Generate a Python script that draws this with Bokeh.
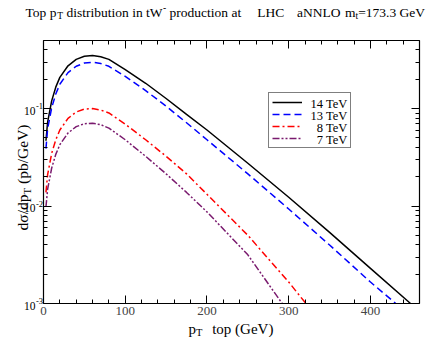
import math
from bokeh.plotting import figure
from bokeh.models import (Label, Legend, LegendItem, LinearAxis, LogAxis, FixedTicker, Range1d)
from bokeh.core.properties import value
from bokeh.embed import file_html
from bokeh.resources import INLINE

# ---------------- data ----------------
pt14 = [3, 5, 10, 15, 20, 30, 40, 50, 60, 70, 80, 100, 125, 150, 175, 200, 250, 300, 350, 400, 449]
lhc14 = [0.0468, 0.0724, 0.120, 0.166, 0.209, 0.275, 0.320, 0.344, 0.350, 0.340, 0.320, 0.251,
         0.182, 0.127, 0.0871, 0.0603, 0.0275, 0.0123, 0.00537, 0.00229, 0.001]
pt13 = [3, 5, 10, 15, 20, 30, 40, 50, 60, 70, 80, 100, 125, 150, 175, 200, 250, 300, 350, 400, 431]
lhc13 = [0.0389, 0.0617, 0.102, 0.141, 0.178, 0.234, 0.272, 0.294, 0.299, 0.290, 0.272, 0.214,
         0.153, 0.106, 0.0716, 0.0479, 0.0214, 0.00933, 0.00398, 0.00166, 0.001]
pt8 = [3, 5, 10, 15, 20, 30, 40, 50, 60, 70, 80, 100, 125, 150, 175, 200, 250, 300, 321]
lhc8 = [0.0138, 0.0209, 0.0347, 0.0479, 0.0603, 0.0794, 0.0923, 0.0991, 0.100, 0.0966, 0.0902, 0.0692,
        0.0479, 0.0324, 0.0214, 0.0132, 0.00501, 0.00166, 0.001]
pt7 = [3, 5, 10, 15, 20, 30, 40, 50, 60, 70, 80, 100, 125, 150, 175, 200, 250, 292]
lhc7 = [0.00977, 0.0148, 0.0245, 0.0339, 0.0427, 0.0562, 0.0653, 0.0700, 0.0708, 0.0684, 0.0631, 0.0479,
        0.0324, 0.0214, 0.0138, 0.00871, 0.00316, 0.001]
series_labels = ["14 TeV", "13 TeV", "8 TeV", "7 TeV"]
colors = ["black", "#0000ff", "#ff0000", "#7a1a6e"]
dashes = ["solid", "7 4", "7 3 2 3", "7 2 2 2 2 2"]
x_major = [0, 100, 200, 300, 400]
x_minor = [20, 40, 60, 80, 120, 140, 160, 180, 220, 240, 260, 280, 320, 340, 360, 380, 420, 440, 460]
y_major = [1e-3, 1e-2, 1e-1]
y_minor = [2e-3, 3e-3, 4e-3, 5e-3, 6e-3, 7e-3, 8e-3, 9e-3, 2e-2, 3e-2, 4e-2, 5e-2, 6e-2, 7e-2,
           8e-2, 9e-2, 0.2, 0.3, 0.4, 0.5]
ytick_exps = [-3, -2, -1]

XMIN, XMAX = 0, 460
YMIN, YMAX = 1e-3, 0.5

# ---------------- geometry (pixels of the picture) ----------------
W, H = 430, 337
FL, FR, FT, FB = 43, 419, 40, 303       # plot box inside the canvas
kx = (XMAX - XMIN) / (FR - FL)
ly_t, ly_b = math.log10(YMAX), math.log10(YMIN)
ky = (ly_t - ly_b) / (FB - FT)

def xd(px):
    return XMIN + (px - FL) * kx

def yd(py):
    return 10 ** (ly_t - (py - FT) * ky)

TW = {' ': 250, '\u00a0': 250, 'T': 611, 'o': 500, 'p': 500, 'd': 500, 'i': 278, 's': 389, 't': 278,
      'r': 333, 'b': 500, 'u': 500, 'n': 500, 'W': 944, '-': 333, 'c': 444, 'a': 444, 'L': 611,
      'H': 722, 'C': 667, 'N': 722, 'O': 722, 'm': 778, '=': 564, '.': 250, 'G': 722, 'e': 444,
      'V': 722, '(': 333, ')': 333, '/': 278, '\u03c3': 550}

def tw(s, size):
    return sum(TW.get(ch, 500) for ch in s) * size / 1000.0

FONT = "Liberation Serif"

p = figure(frame_width=W, frame_height=H, min_border=0,
           x_range=Range1d(xd(0), xd(W)), y_range=Range1d(yd(H), yd(0)),
           y_axis_type="log", x_axis_location=None, y_axis_location=None,
           output_backend="svg", toolbar_location=None, background_fill_color="white",
           border_fill_color="white")
p.xgrid.visible = False
p.ygrid.visible = False
p.outline_line_color = None

def style_axis(ax, labels):
    ax.axis_line_color = "black"
    ax.axis_line_width = 1.2
    ax.major_tick_in = 8
    ax.major_tick_out = 0
    ax.minor_tick_in = 4
    ax.minor_tick_out = 0
    ax.major_tick_line_color = "black"
    ax.minor_tick_line_color = "black"
    if not labels:
        ax.major_label_text_color = None
        ax.major_label_text_font_size = "1px"

bottom = LinearAxis(fixed_location=YMIN, bounds=(XMIN, XMAX),
                    ticker=FixedTicker(ticks=x_major, minor_ticks=x_minor))
style_axis(bottom, True)
bottom.major_label_text_font = FONT
bottom.major_label_text_font_size = "13px"
bottom.major_label_standoff = 3
p.add_layout(bottom, "below")

top = LinearAxis(fixed_location=YMAX, bounds=(XMIN, XMAX),
                 ticker=FixedTicker(ticks=x_major, minor_ticks=x_minor))
style_axis(top, False)
p.add_layout(top, "above")

left = LogAxis(fixed_location=XMIN, bounds=(YMIN, YMAX),
               ticker=FixedTicker(ticks=y_major, minor_ticks=y_minor))
style_axis(left, False)
p.add_layout(left, "left")

right = LogAxis(fixed_location=XMAX, bounds=(YMIN, YMAX),
                ticker=FixedTicker(ticks=y_major, minor_ticks=y_minor))
style_axis(right, False)
p.add_layout(right, "right")

renderers = []
for xs, ys, c, d in zip([pt14, pt13, pt8, pt7], [lhc14, lhc13, lhc8, lhc7], colors, dashes):
    r = p.line(xs, ys, line_color=c, line_width=1.5, line_dash=d)
    renderers.append(r)

# legend: Bokeh legend draws box and line samples; texts drawn as labels (right aligned)
ROW, PAD = 12, 3
LEG_L, LEG_B = 268, 148
legend = Legend(items=[LegendItem(label=value(""), renderers=[r]) for r in renderers],
                location=(LEG_L, H - LEG_B), border_line_color="black",
                border_line_width=1.5, background_fill_color=None,
                label_text_font=FONT, label_text_font_size="1px",
                glyph_width=30, glyph_height=ROW, label_height=ROW, label_width=39,
                spacing=0, padding=PAD, label_standoff=6, margin=0)
p.add_layout(legend, "center")

def lab(text, px, py, size, align="left", baseline="alphabetic", angle=0):
    p.add_layout(Label(x=xd(px), y=yd(py), text=text, text_font=FONT,
                       text_font_size=f"{size}px", text_align=align,
                       text_baseline=baseline, angle=angle, text_color="black",
                       level="overlay"))

leg_top = LEG_B - 4 * ROW - 2 * PAD
for i, s in enumerate(series_labels):
    lab(s, 347, leg_top + PAD + ROW * (i + 0.5) + 0.5, 12.5, align="right", baseline="middle")

# ---- title ----
S, SS = 13.5, 9.5
x = 25
base = 12
lab("Top p", x, base, S); x += tw("Top p", S)
lab("T", x, base + 3, SS); x += tw("T", SS) + tw(" ", S)
lab("distribution in tW", x, base, S); x += tw("distribution in tW", S)
lab("-", x + 0.5, base - 5, SS); x += tw("-", SS) + 0.5 + tw(" ", S)
lab("production at", x, base, S)
lab("LHC", 256.7, base, S)
lab("aNNLO", 296.5, base, S)
x = 344.5
lab("m", x, base, S); x += tw("m", S)
lab("t", x, base + 3, SS); x += tw("t", SS)
lab("=173.3 GeV", x, base, S)

# ---- y tick labels ----
for e in ytick_exps:
    py = FT + (ly_t - e) / ky
    lab("10", 35, py + 2, 11.5, align="right", baseline="middle")
    lab(str(e), 35.5, py - 2.5, 8.5, align="left", baseline="middle")

# ---- x axis label ----
lab("p", 188, 328.5, 15)
lab("T", 188 + tw("p", 15), 332, 10.5)
lab("top (GeV)", 211.7, 328.5, 15)

# ---- y axis label (rotated, anchored around the subscript) ----
YS, YSS = 15.5, 11
bx = 22
t_start = 194             # page y where the subscript begins (text reads upward)
lab("d\u03c3/dp", bx, t_start, YS, align="right", angle=math.pi / 2)
lab("T", bx + 4, t_start, YSS, angle=math.pi / 2)
lab("(pb/GeV)", bx, t_start - tw("T", YSS) - tw(" ", YS), YS, angle=math.pi / 2)

open("out.html", "w").write(file_html(p, INLINE))
